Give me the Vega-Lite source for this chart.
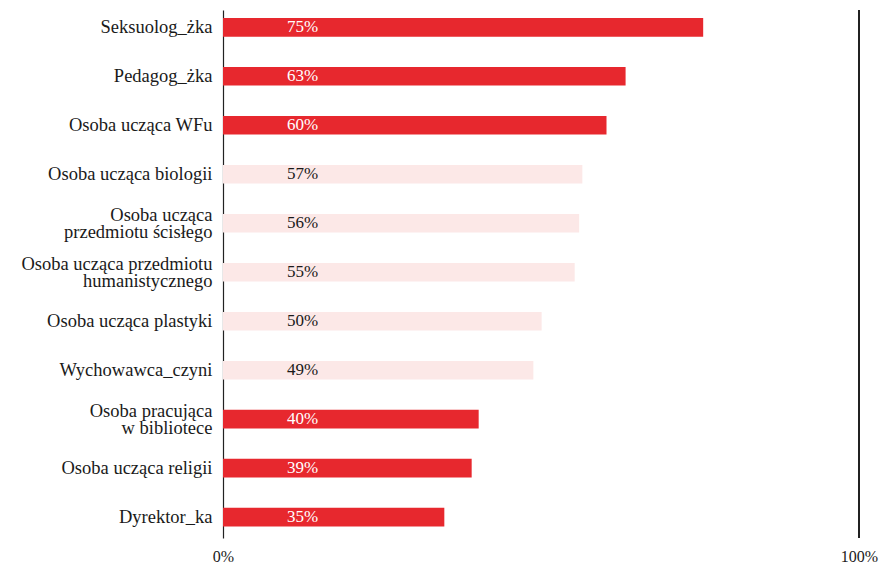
{
  "$schema": "https://vega.github.io/schema/vega-lite/v6.json",
  "autosize": "none",
  "width": 636,
  "height": 528,
  "padding": {"left": 223, "top": 10, "right": 23, "bottom": 27},
  "background": "white",
  "config": {
    "view": {"stroke": null},
    "font": "Liberation Serif",
    "axis": {"labelFont": "Liberation Serif", "labelColor": "#1a1a1a"}
  },
  "data": {
    "values": [
      {"kto": "Seksuolog_żka", "wartosc": 0.755, "etykieta": "75%", "wyrozniony": true},
      {"kto": "Pedagog_żka", "wartosc": 0.633, "etykieta": "63%", "wyrozniony": true},
      {"kto": "Osoba ucząca WFu", "wartosc": 0.603, "etykieta": "60%", "wyrozniony": true},
      {"kto": "Osoba ucząca biologii", "wartosc": 0.565, "etykieta": "57%", "wyrozniony": false},
      {"kto": "Osoba ucząca\nprzedmiotu ścisłego", "wartosc": 0.56, "etykieta": "56%", "wyrozniony": false},
      {"kto": "Osoba ucząca przedmiotu\nhumanistycznego", "wartosc": 0.553, "etykieta": "55%", "wyrozniony": false},
      {"kto": "Osoba ucząca plastyki", "wartosc": 0.501, "etykieta": "50%", "wyrozniony": false},
      {"kto": "Wychowawca_czyni", "wartosc": 0.488, "etykieta": "49%", "wyrozniony": false},
      {"kto": "Osoba pracująca\nw bibliotece", "wartosc": 0.402, "etykieta": "40%", "wyrozniony": true},
      {"kto": "Osoba ucząca religii", "wartosc": 0.391, "etykieta": "39%", "wyrozniony": true},
      {"kto": "Dyrektor_ka", "wartosc": 0.348, "etykieta": "35%", "wyrozniony": true}
    ]
  },
  "layer": [
    {
      "mark": {"type": "bar"},
      "encoding": {
        "y": {
          "field": "kto",
          "type": "nominal",
          "sort": null,
          "title": null,
          "scale": {"paddingInner": 0.62, "paddingOuter": 0.2, "align": 0.41},
          "axis": {
            "ticks": false,
            "domain": true,
            "domainColor": "#222222",
            "domainWidth": 1.2,
            "labelFontSize": 18.5,
            "labelPadding": 11,
            "labelLimit": 300,
            "labelLineHeight": 16.5,
            "labelOffset": {"condition": {"test": "indexof(datum.value, '\\n') >= 0", "value": -8}, "value": 0},
            "labelExpr": "split(datum.value, '\\n')"
          }
        },
        "x": {
          "field": "wartosc",
          "type": "quantitative",
          "title": null,
          "scale": {"domain": [0, 1], "nice": false},
          "axis": {
            "values": [0, 1],
            "format": "%",
            "ticks": false,
            "domain": false,
            "grid": false,
            "labelFontSize": 16,
            "labelPadding": 10,
            "labelFlush": false
          }
        },
        "color": {
          "field": "wyrozniony",
          "type": "nominal",
          "scale": {"domain": [true, false], "range": ["#e7282e", "#fce8e7"]},
          "legend": null
        }
      }
    },
    {
      "mark": {"type": "text", "align": "center", "baseline": "middle", "fontSize": 17, "font": "Liberation Serif"},
      "encoding": {
        "y": {"field": "kto", "type": "nominal", "sort": null},
        "x": {"datum": 0.125, "type": "quantitative"},
        "text": {"field": "etykieta"},
        "color": {
          "condition": {"test": "datum.wyrozniony", "value": "#ffffff"},
          "value": "#1a1a1a"
        }
      }
    },
    {
      "mark": {"type": "rule", "color": "#222222", "strokeWidth": 1.2},
      "encoding": {"x": {"datum": 1, "type": "quantitative"}}
    }
  ]
}
